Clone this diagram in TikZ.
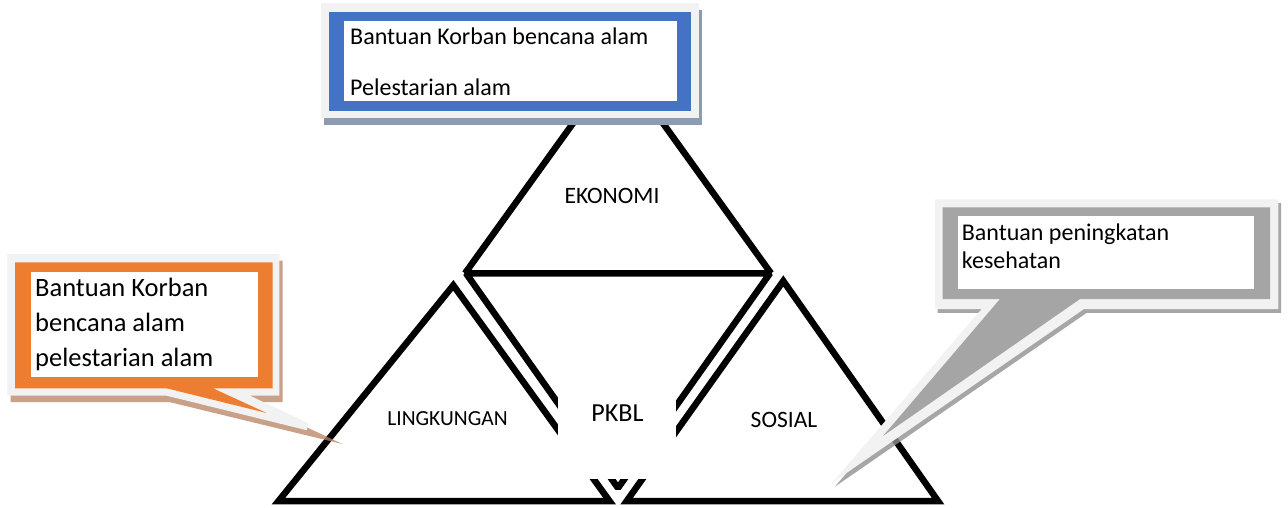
\documentclass[tikz,border=0pt]{standalone}
\usepackage{fontspec}
\setmainfont{Carlito}
\definecolor{boxblue}{HTML}{4472C4}
\definecolor{boxorange}{HTML}{ED7D31}
\definecolor{boxgray}{HTML}{A5A5A5}
\definecolor{halo}{HTML}{F2F2F2}
\definecolor{blueshadow}{HTML}{8C9AB3}
\definecolor{brownshadow}{HTML}{B78262}
\definecolor{grayshadow}{HTML}{909090}
\begin{document}
\begin{tikzpicture}[x=1pt,y=-1pt,
  tri/.style={line width=6.5pt, line join=miter, miter limit=10},
  lbl/.style={inner sep=0pt, text=black},
  boxtxt/.style={inner sep=0pt, anchor=base west, text=black},
  fs/.style={font=\fontsize{#1}{#1}\selectfont}]
\useasboundingbox (0,0) rectangle (1288,507);
\fill[white] (0,0) rectangle (1288,507);

% ---------- triangles ----------
\draw[tri, fill=white] (278.5,501) -- (453.3,285.3) -- (609.5,501) -- cycle;
\draw[tri, fill=white] (626.7,501) -- (783.3,281) -- (938,501) -- cycle;
\draw[tri, fill=white, line join=bevel] (466,273.3) -- (770,273.3) -- (618,488) -- cycle;
\draw[tri] (465,273.3) -- (618,60.8) -- (771,273.3);

% white panel behind PKBL
\node[fill=white, inner sep=0pt, minimum width=118pt, minimum height=170pt, anchor=south west] (pkblbox) at (558,479.5) {};

% ---------- labels ----------
\node[lbl, fs=23.5] (eko) at (612,195.8) {EKONOMI};
\node[lbl, fs=26] (pkbl) at (617.5,413.3) {PKBL};
\node[lbl, fs=21.5] (ling) at (447.5,419) {LINGKUNGAN};
\node[lbl, fs=23.5] (sos) at (784,419.7) {SOSIAL};

% ---------- top box ----------
\fill[blueshadow] (324,9.5) rectangle (702.3,124.5);
\fill[halo] (321,3.3) rectangle (699,118.3);
\fill[boxblue] (329,11.7) rectangle (691,111);
\fill[white] (344.3,21) rectangle (677.3,100.7);
\node[boxtxt, fs=24] (t1) at (350,44.7) {Bantuan Korban bencana alam};
\node[boxtxt, fs=24] (t2) at (350,95.5) {Pelestarian alam};

% ---------- left callout ----------
\fill[brownshadow, fill opacity=0.75] (10.6,260.5) -- (282.6,260.5) -- (282.6,402.2) -- (253.3,402.2)
  -- (342.4,444) -- (170,402.2) -- (10.6,402.2) -- cycle;
\fill[halo] (7.3,254) -- (279.3,254) -- (279.3,395.7) -- (250,395.7) -- (308.3,423.3)
  -- (306.7,430.2) -- (166.7,395.7) -- (7.3,395.7) -- cycle;
\fill[boxorange] (15,262.3) -- (272.7,262.3) -- (272.7,388.3) -- (213,388.3) -- (266.7,413)
  -- (166.7,388.3) -- (15,388.3) -- cycle;
\fill[white] (30.7,271.7) rectangle (257.7,377.3);
\node[boxtxt, fs=26.5] (l1) at (35,296.7) {Bantuan Korban};
\node[boxtxt, fs=26.5] (l2) at (35,331.7) {bencana alam};
\node[boxtxt, fs=26.5] (l3) at (35,366.7) {pelestarian alam};

% ---------- right callout ----------
\fill[grayshadow, fill opacity=0.8] (937.7,203.1) -- (1281,203.1) -- (1281,312.8) -- (1086.7,312.8)
  -- (834.7,486.8) -- (984.4,312.8) -- (937.7,312.8) -- cycle;
\fill[halo] (935,199.3) -- (1278.3,199.3) -- (1278.3,309) -- (1084,309) -- (832,483)
  -- (981.7,309) -- (935,309) -- cycle;
\fill[boxgray] (942.7,207.3) -- (1270,207.3) -- (1270,299) -- (1080,299) -- (883,436)
  -- (1000,299) -- (942.7,299) -- cycle;
\fill[white] (957.7,216) rectangle (1254,289.3);
\node[boxtxt, fs=24] (r1) at (961.7,240) {Bantuan peningkatan};
\node[boxtxt, fs=24] (r2) at (961.7,268.5) {kesehatan};
\end{tikzpicture}
\end{document}
